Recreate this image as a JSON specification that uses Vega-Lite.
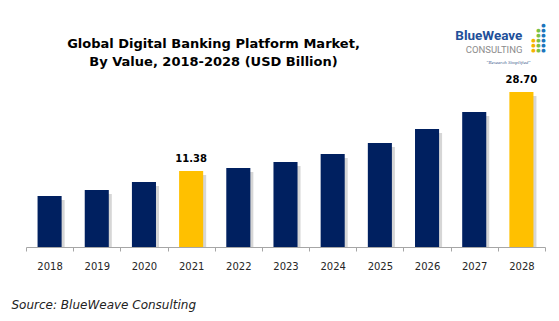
{
  "$schema": "https://vega.github.io/schema/vega-lite/v6.json",
  "width": 519,
  "height": 161,
  "autosize": "none",
  "padding": {"left": 26, "top": 86, "right": 14, "bottom": 74},
  "background": "white",
  "config": {"view": {"stroke": null}},
  "title": {
    "text": ["Global Digital Banking Platform Market,", "By Value, 2018-2028 (USD Billion)"],
    "font": "DejaVu Sans",
    "fontSize": 13,
    "fontWeight": "bold",
    "color": "#000000",
    "anchor": "middle",
    "frame": "group",
    "dx": -72,
    "offset": -46,
    "lineHeight": 18
  },
  "data": {
    "values": [
      {"year": "2018", "value": 5.90, "highlight": "no"},
      {"year": "2019", "value": 7.21, "highlight": "no"},
      {"year": "2020", "value": 8.97, "highlight": "no"},
      {"year": "2021", "value": 11.38, "highlight": "yes"},
      {"year": "2022", "value": 12.04, "highlight": "no"},
      {"year": "2023", "value": 13.35, "highlight": "no"},
      {"year": "2024", "value": 15.11, "highlight": "no"},
      {"year": "2025", "value": 17.52, "highlight": "no"},
      {"year": "2026", "value": 20.59, "highlight": "no"},
      {"year": "2027", "value": 24.31, "highlight": "no"},
      {"year": "2028", "value": 28.70, "highlight": "yes"}
    ]
  },
  "encoding": {
    "x": {
      "field": "year",
      "type": "nominal",
      "scale": {"paddingInner": 0, "paddingOuter": 0},
      "axis": {
        "labelAngle": 0,
        "labelFont": "DejaVu Sans",
        "labelFontSize": 10,
        "labelColor": "#262626",
        "labelPadding": 10,
        "domainColor": "#a6a6a6",
        "tickColor": "#a6a6a6",
        "tickSize": 4,
        "tickBand": "extent",
        "title": "Source: BlueWeave Consulting",
        "titleFont": "DejaVu Sans",
        "titleFontSize": 12,
        "titleFontStyle": "italic",
        "titleFontWeight": "normal",
        "titleColor": "#222222",
        "titleAnchor": "start",
        "titleAlign": "left",
        "titleBaseline": "alphabetic",
        "titleX": -15,
        "titleY": 61
      }
    }
  },
  "layer": [
    {
      "mark": {"type": "bar", "color": "#d6d6d6", "xOffset": 3, "yOffset": 4, "clip": true, "width": {"band": 0.51}},
      "encoding": {
        "y": {"field": "value", "type": "quantitative", "scale": {"domain": [-5.28, 30], "nice": false, "zero": false}, "axis": null},
        "y2": {"datum": -5.28}
      }
    },
    {
      "mark": {"type": "bar", "width": {"band": 0.51}},
      "encoding": {
        "y": {"field": "value", "type": "quantitative"},
        "y2": {"datum": -5.28},
        "color": {
          "field": "highlight",
          "type": "nominal",
          "scale": {"domain": ["no", "yes"], "range": ["#002060", "#FFC000"]},
          "legend": null
        }
      }
    },
    {
      "transform": [{"filter": "datum.highlight == 'yes'"}],
      "mark": {"type": "text", "font": "DejaVu Sans", "fontSize": 10, "fontWeight": "bold", "color": "#000000", "baseline": "alphabetic", "dy": -9},
      "encoding": {
        "y": {"field": "value", "type": "quantitative"},
        "text": {"field": "value", "type": "quantitative", "format": ".2f"}
      }
    },
    {
      "data": {"values": [{}]},
      "layer": [
        {
          "mark": {"type": "text", "text": "BlueWeave", "font": "Roboto", "fontSize": 13.5, "fontWeight": "bold", "color": "#22509a", "align": "right", "baseline": "alphabetic", "dx": 1},
          "encoding": {"x": {"datum": "2028", "type": "nominal"}, "y": {"datum": 40, "type": "quantitative"}}
        },
        {
          "mark": {"type": "text", "text": "CONSULTING", "font": "Roboto", "fontSize": 9.5, "color": "#8c8c8c", "align": "right", "baseline": "alphabetic", "dx": 1},
          "encoding": {"x": {"datum": "2028", "type": "nominal"}, "y": {"datum": 37.3, "type": "quantitative"}}
        },
        {
          "mark": {"type": "text", "text": "\"Research Simplified\"", "font": "Liberation Serif", "fontSize": 5, "fontStyle": "italic", "color": "#3a5a8c", "align": "center", "baseline": "middle", "dx": -13},
          "encoding": {"x": {"datum": "2028", "type": "nominal"}, "y": {"datum": 35.26, "type": "quantitative"}}
        },
        {
          "mark": {"type": "text", "text": ["●", "●", "●"], "font": "DejaVu Sans", "fontSize": 5, "lineHeight": 5, "color": "#f5b400", "align": "center", "baseline": "top", "dx": 12},
          "encoding": {"x": {"datum": "2028", "type": "nominal"}, "y": {"datum": 40.43, "type": "quantitative"}}
        },
        {
          "mark": {"type": "text", "text": ["●", "●", "●", "●", "●"], "font": "DejaVu Sans", "fontSize": 5, "lineHeight": 5, "color": "#7ac143", "align": "center", "baseline": "top", "dx": 17},
          "encoding": {"x": {"datum": "2028", "type": "nominal"}, "y": {"datum": 42.62, "type": "quantitative"}}
        },
        {
          "mark": {"type": "text", "text": ["●", "●", "●", "●", "●", "●"], "font": "DejaVu Sans", "fontSize": 5, "lineHeight": 5, "color": "#1c75bc", "align": "center", "baseline": "top", "dx": 22},
          "encoding": {"x": {"datum": "2028", "type": "nominal"}, "y": {"datum": 43.72, "type": "quantitative"}}
        }
      ]
    }
  ]
}
